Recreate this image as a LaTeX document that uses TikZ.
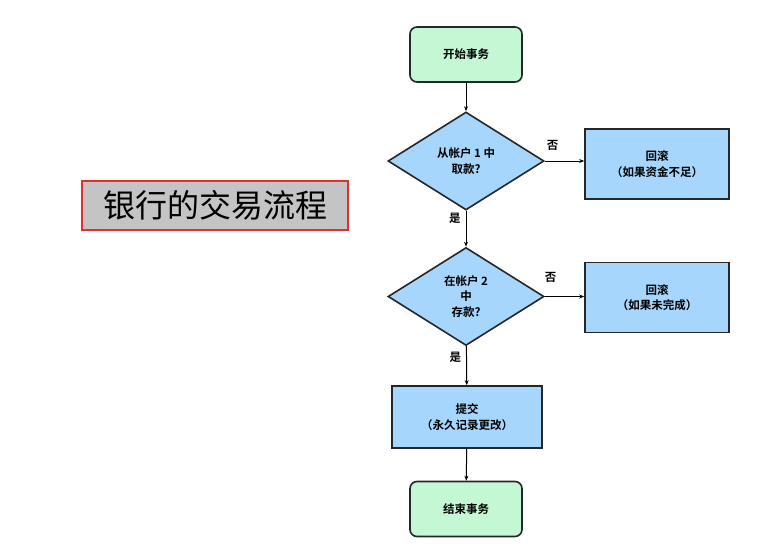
\documentclass[tikz,border=0pt]{standalone}
\usepackage{fontspec}
\usepackage{xcolor}
\usetikzlibrary{arrows.meta,shapes.geometric}
\newfontfamily\cjk{Noto Sans CJK SC}[BoldFont={Noto Sans CJK SC Bold}]
\definecolor{TxGreen}{HTML}{C4F7D4}
\definecolor{TxBlue}{HTML}{A6D6FC}
\definecolor{TxGray}{HTML}{C4C4C4}
\definecolor{TxRed}{HTML}{E03030}

\begin{document}
\begin{tikzpicture}[
  x=1pt, y=-1pt,
  font=\cjk\bfseries\fontsize{11.5}{15.5}\selectfont,
  terminal/.style={draw=black!85, line width=1.6pt, rounded corners=7pt, fill=TxGreen,
    minimum width=112pt, minimum height=55pt, align=center},
  decision/.style={draw=black!85, line width=1.6pt, diamond, fill=TxBlue, inner sep=0pt,
    minimum width=156pt, minimum height=98pt, align=center},
  process/.style={draw=black!85, line width=1.6pt, fill=TxBlue,
    minimum width=144pt, minimum height=70pt, align=center},
  arrow/.style={-{Stealth[length=5pt,width=4pt]}, line width=1pt},
  lbl/.style={inner sep=1pt}
]
\useasboundingbox (0,0) rectangle (783,548);
\node[draw=TxRed, line width=1.4pt, fill=TxGray, minimum width=266pt, minimum height=49pt,
  font=\cjk\fontsize{32}{36}\selectfont] (title) at (215,205.5) {银行的交易流程};

\node[terminal] (start) at (466,54.5) {开始事务};
\node[decision] (withdraw) at (466,161) {从帐户 1 中\\取款?};
\node[process] (undo1) at (657,164) {回滚\\（如果资金不足）};
\node[decision] (deposit) at (466,296.5) {在帐户 2\\中\\存款?};
\node[process] (undo2) at (657,297.5) {回滚\\（如果未完成）};
\node[process, minimum width=150pt, minimum height=62pt] (commit) at (467,417) {提交\\（永久记录更改）};
\node[terminal] (finish) at (466,509) {结束事务};

\draw[arrow] (start) -- (withdraw);
\draw[arrow] (withdraw.east) -- (withdraw.east -| undo1.west) node[lbl, pos=0.2, above=9pt] {否};
\draw[arrow] (withdraw) -- (deposit) node[lbl, pos=0.2, left=4pt] {是};
\draw[arrow] (deposit.east) -- (deposit.east -| undo2.west) node[lbl, pos=0.15, above=12pt] {否};
\draw[arrow] (deposit) -- (commit) node[lbl, pos=0.3, left=4pt] {是};
\draw[arrow] (commit) -- (finish);
\end{tikzpicture}
\end{document}
